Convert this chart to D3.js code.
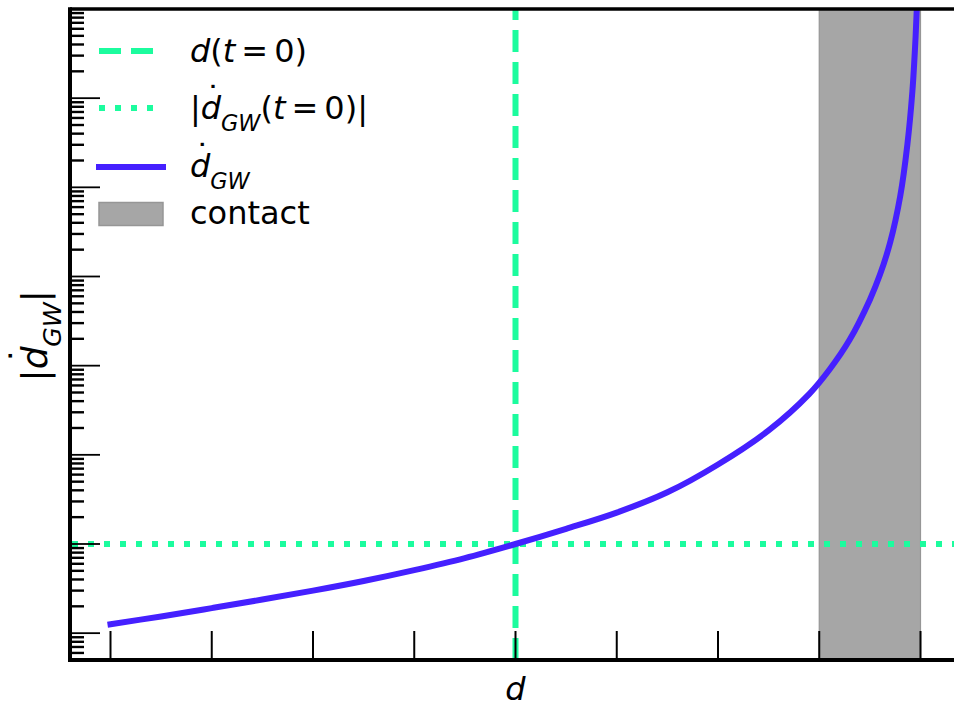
<!DOCTYPE html>
<html>
<head>
<meta charset="utf-8">
<script src="https://cdn.jsdelivr.net/npm/d3@7"></script>
<style>
  body { margin: 0; background: #fff; }
  svg { display: block; }
  text { font-family: "DejaVu Sans", sans-serif; fill: #000; }
</style>
</head>
<body>
<svg id="chart" width="954" height="707"></svg>
<script>
// separation d (arbitrary units) and |d-dot_GW| along the inspiral
const curveD    = [1.0, 1.5, 2.0, 2.5, 3.0, 3.5, 4.0, 4.5, 5.0, 5.5, 6.0, 6.5, 7.0, 7.5, 7.9, 8.1, 8.3, 8.5, 8.6, 8.7, 8.8, 8.87, 8.92, 8.95, 8.97, 8.985];
const curveRate = [1.26, 1.54, 1.91, 2.38, 3.0, 3.85, 5.1, 6.95, 10, 14.8, 22.5, 38, 78, 188, 480, 900, 1950, 5500, 10500, 24000, 80000, 3.0e5, 1.2e6, 4.5e6, 1.5e7, 4.0e7];

// initial separation and initial rate
const initialD = [5.0];
const initialRate = [10];

// range of d where the bodies are in contact
const contactRange = [8.0, 9.0];

// tick positions (no tick labels are drawn)
const xTickValues = [1, 2, 3, 4, 5, 6, 7, 8, 9];
const yDomain = [0.5, 1e7];
const xDomain = [0.6, 9.4];

const green = "#1cfc9e";
const blue = "#4520ff";

const svg = d3.select("#chart");
const pLeft = 70, pRight = 961, pTop = 9, pBottom = 660;

const x = d3.scaleLinear().domain(xDomain).range([pLeft, pRight]);
const y = d3.scaleLog().domain(yDomain).range([pBottom, pTop]);

svg.append("defs").append("clipPath").attr("id", "plotClip")
  .append("rect").attr("x", pLeft).attr("y", pTop)
  .attr("width", pRight - pLeft).attr("height", pBottom - pTop);

const plot = svg.append("g").attr("clip-path", "url(#plotClip)");

// contact region
plot.append("rect")
  .attr("x", x(contactRange[0])).attr("y", pTop - 2)
  .attr("width", x(contactRange[1]) - x(contactRange[0]))
  .attr("height", pBottom - pTop + 4)
  .attr("fill", "#a6a6a6").attr("stroke", "#969696").attr("stroke-width", 1.2);

// ticks, drawn inward
const ticks = svg.append("g");
ticks.selectAll("line.xt").data(xTickValues).join("line")
  .attr("x1", d => x(d)).attr("x2", d => x(d))
  .attr("y1", pBottom).attr("y2", pBottom - 29)
  .attr("stroke", "#000").attr("stroke-width", 2);

const majors = [], minors = [];
for (let e = -1; e <= 7; e++) {
  for (let k = 1; k <= 9; k++) {
    const v = k * Math.pow(10, e);
    if (v < yDomain[0] || v > yDomain[1] * 1.0001) continue;
    (k === 1 ? majors : minors).push(v);
  }
}
ticks.selectAll("line.ymaj").data(majors).join("line")
  .attr("x1", pLeft).attr("x2", pLeft + 30)
  .attr("y1", d => y(d)).attr("y2", d => y(d))
  .attr("stroke", "#000").attr("stroke-width", 1.8);
ticks.selectAll("line.ymin").data(minors).join("line")
  .attr("x1", pLeft).attr("x2", pLeft + 14)
  .attr("y1", d => y(d)).attr("y2", d => y(d))
  .attr("stroke", "#000").attr("stroke-width", 2.4);

// reference lines at t = 0
plot.selectAll("line.v0").data(initialD).join("line")
  .attr("x1", d => x(d)).attr("x2", d => x(d))
  .attr("y1", pBottom).attr("y2", pTop)
  .attr("stroke", green).attr("stroke-width", 6)
  .attr("stroke-dasharray", "22,10");
plot.selectAll("line.h0").data(initialRate).join("line")
  .attr("x1", pLeft + 2).attr("x2", pRight)
  .attr("y1", d => y(d)).attr("y2", d => y(d))
  .attr("stroke", green).attr("stroke-width", 6)
  .attr("stroke-dasharray", "6,10");

// GW-driven rate
const pts = curveD.map((d, i) => [d, curveRate[i]]);
plot.append("path")
  .attr("d", d3.line().x(p => x(p[0])).y(p => y(p[1])).curve(d3.curveCatmullRom.alpha(0.5))(pts))
  .attr("fill", "none").attr("stroke", blue).attr("stroke-width", 6)
  .attr("stroke-linecap", "square").attr("stroke-linejoin", "round");

// spines
svg.append("line").attr("x1", pLeft).attr("x2", 954).attr("y1", pTop).attr("y2", pTop)
  .attr("stroke", "#000").attr("stroke-width", 3.5);
svg.append("line").attr("x1", pLeft - 2).attr("x2", 954).attr("y1", pBottom).attr("y2", pBottom)
  .attr("stroke", "#000").attr("stroke-width", 4);
svg.append("line").attr("x1", pLeft).attr("x2", pLeft).attr("y1", pTop - 1.75).attr("y2", pBottom + 2)
  .attr("stroke", "#000").attr("stroke-width", 4);

// math-like label in a single text element, baseline at 0 of group g.
// each part: {s, it, sub, dot, dx}; "dot" puts a dot accent over the part's last glyph
function mathText(g, parts, fs) {
  const t = g.append("text").attr("font-size", fs);
  let shift = 0;
  const put = (str, opts) => {
    const ts = t.append("tspan").text(str);
    const target = opts.shift || 0;
    if (target !== shift) ts.attr("dy", target - shift);
    shift = target;
    if (opts.dx) ts.attr("dx", opts.dx);
    if (opts.it) ts.attr("font-style", "italic");
    if (opts.size) ts.attr("font-size", opts.size);
    return ts;
  };
  parts.forEach(p => {
    put(p.s, { it: p.it || p.sub, dx: p.dx, shift: p.sub ? fs * 0.38 : 0, size: p.sub ? fs * 0.7 : null });
    if (p.dot) put("\u02D9", { dx: -0.504 * fs, shift: -0.31 * fs });
  });
  return t;
}

// legend
const legend = svg.append("g");
const hx0 = 99, hx1 = 163, tx = 190;
const rows = [51, 108, 167, 214];

legend.append("line").attr("x1", hx0).attr("x2", hx1).attr("y1", rows[0]).attr("y2", rows[0])
  .attr("stroke", green).attr("stroke-width", 6).attr("stroke-dasharray", "22,10");
legend.append("line").attr("x1", hx0).attr("x2", hx1).attr("y1", rows[1]).attr("y2", rows[1])
  .attr("stroke", green).attr("stroke-width", 6).attr("stroke-dasharray", "6,10");
legend.append("line").attr("x1", hx0).attr("x2", hx1).attr("y1", rows[2]).attr("y2", rows[2])
  .attr("stroke", blue).attr("stroke-width", 6).attr("stroke-linecap", "square");
legend.append("rect").attr("x", hx0).attr("y", rows[3] - 11.5).attr("width", hx1 - hx0).attr("height", 23)
  .attr("fill", "#a6a6a6").attr("stroke", "#969696").attr("stroke-width", 1.5);

const fs = 32;
const eqGap = 6;
const l1 = legend.append("g").attr("transform", `translate(${tx},${rows[0] + 11})`);
mathText(l1, [{ s: "d", it: true }, { s: "(" }, { s: "t", it: true },
              { s: "=", dx: eqGap }, { s: "0)", dx: eqGap }], fs);
const l2 = legend.append("g").attr("transform", `translate(${tx},${rows[1] + 11})`);
mathText(l2, [{ s: "|" }, { s: "d", it: true, dot: true }, { s: "GW", sub: true },
              { s: "(" }, { s: "t", it: true }, { s: "=", dx: eqGap }, { s: "0)|", dx: eqGap }], fs);
const l3 = legend.append("g").attr("transform", `translate(${tx},${rows[2] + 10})`);
mathText(l3, [{ s: "d", it: true, dot: true }, { s: "GW", sub: true }], fs);
legend.append("text").attr("x", tx).attr("y", rows[3] + 10).attr("font-size", fs).text("contact");

// axis labels
svg.append("text").attr("x", (pLeft + pRight) / 2).attr("y", 700)
  .attr("text-anchor", "middle").attr("font-size", fs).attr("font-style", "italic").text("d");

const yl = svg.append("g").attr("transform", `translate(47,${(pTop + pBottom) / 2 + 47}) rotate(-90)`);
mathText(yl, [{ s: "|" }, { s: "d", it: true, dot: true }, { s: "GW", sub: true }, { s: "|" }], 36);
</script>
</body>
</html>
